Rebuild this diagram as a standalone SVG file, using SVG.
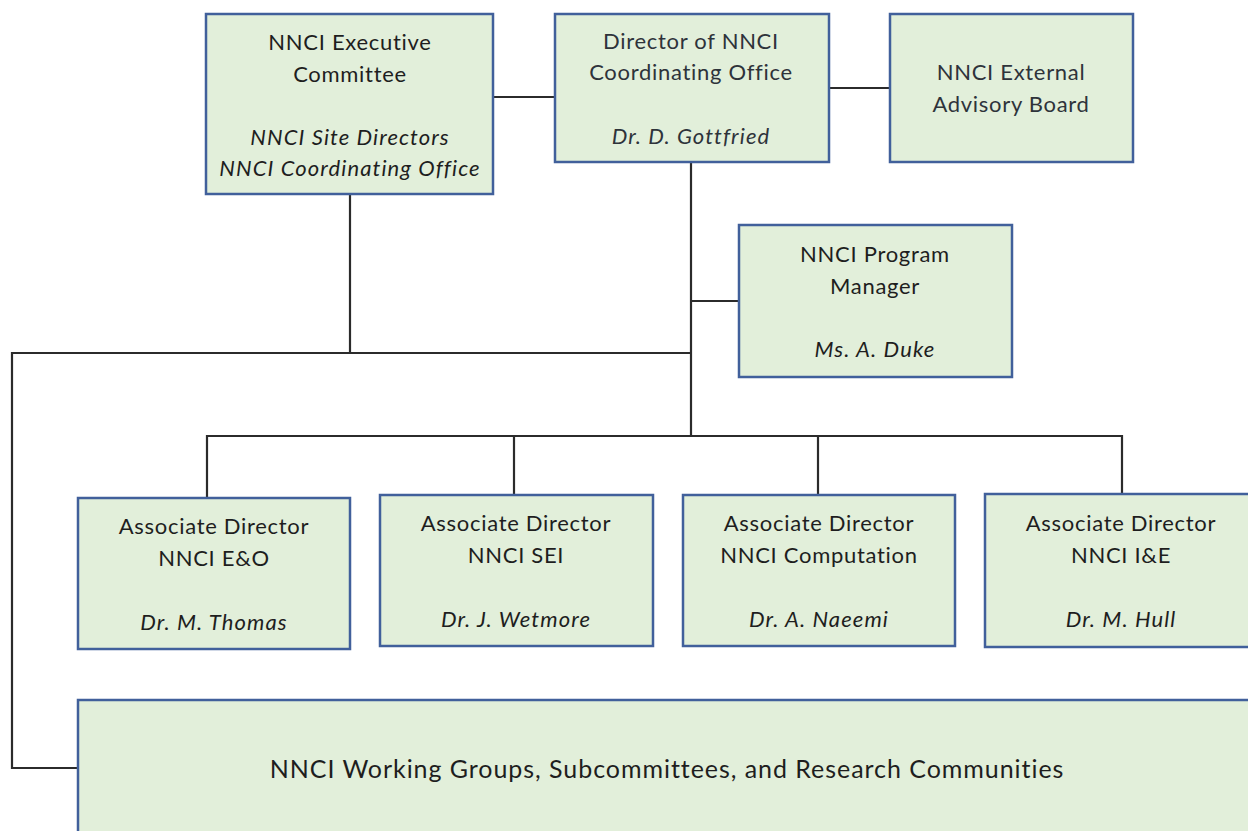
<svg xmlns="http://www.w3.org/2000/svg" width="1248" height="831" viewBox="0 0 1248 831">
  <style>
    .box { fill: #e2efda; stroke: #41609b; stroke-width: 2.5; }
    .wire { fill: none; stroke: #2b2b2b; stroke-width: 2.2; }
    text { font-family: Lato, "Open Sans", "Liberation Sans", sans-serif; font-size: 22px; fill: #1e1e1e; text-anchor: middle; letter-spacing: 0.7px; }
    .soft { fill: #2e333a; }
    .it { font-style: italic; letter-spacing: 1.1px; }
    .big { font-size: 25px; letter-spacing: 0.95px; }
  </style>
  <rect width="1248" height="831" fill="#ffffff"/>

  <g id="connectors">
    <path class="wire" d="M493 97 H555"/>
    <path class="wire" d="M829 88 H890"/>
    <path class="wire" d="M691 162 V436"/>
    <path class="wire" d="M691 301 H739"/>
    <path class="wire" d="M350 194 V353"/>
    <path class="wire" d="M691 353 H12 V768 H78"/>
    <path class="wire" d="M207 498 V436 H1122 V494"/>
    <path class="wire" d="M514 436 V495"/>
    <path class="wire" d="M818 436 V495"/>
  </g>

  <g id="executive-committee">
    <rect class="box" x="206" y="14" width="287" height="180"/>
    <text x="350" y="50">NNCI Executive</text>
    <text x="350" y="82">Committee</text>
    <text class="it" x="350" y="145">NNCI Site Directors</text>
    <text class="it" x="350" y="176">NNCI Coordinating Office</text>
  </g>

  <g id="director">
    <rect class="box" x="555" y="14" width="274" height="148"/>
    <text class="soft" x="691" y="49">Director of NNCI</text>
    <text class="soft" x="691" y="80">Coordinating Office</text>
    <text class="it soft" x="691" y="144">Dr. D. Gottfried</text>
  </g>

  <g id="advisory-board">
    <rect class="box" x="890" y="14" width="243" height="148"/>
    <text class="soft" x="1011" y="80">NNCI External</text>
    <text class="soft" x="1011" y="112">Advisory Board</text>
  </g>

  <g id="program-manager">
    <rect class="box" x="739" y="225" width="273" height="152"/>
    <text x="875" y="262">NNCI Program</text>
    <text x="875" y="294">Manager</text>
    <text class="it" x="875" y="357">Ms. A. Duke</text>
  </g>

  <g id="ad-eo">
    <rect class="box" x="78" y="498" width="272" height="151"/>
    <text x="214" y="534">Associate Director</text>
    <text x="214" y="566">NNCI E&amp;O</text>
    <text class="it" x="214" y="630">Dr. M. Thomas</text>
  </g>

  <g id="ad-sei">
    <rect class="box" x="380" y="495" width="273" height="151"/>
    <text x="516" y="531">Associate Director</text>
    <text x="516" y="563">NNCI SEI</text>
    <text class="it" x="516" y="627">Dr. J. Wetmore</text>
  </g>

  <g id="ad-computation">
    <rect class="box" x="683" y="495" width="272" height="151"/>
    <text x="819" y="531">Associate Director</text>
    <text x="819" y="563">NNCI Computation</text>
    <text class="it" x="819" y="627">Dr. A. Naeemi</text>
  </g>

  <g id="ad-ie">
    <rect class="box" x="985" y="494" width="275" height="153"/>
    <text x="1121" y="531">Associate Director</text>
    <text x="1121" y="563">NNCI I&amp;E</text>
    <text class="it" x="1121" y="627">Dr. M. Hull</text>
  </g>

  <g id="working-groups">
    <rect class="box" x="78" y="700" width="1190" height="150"/>
    <text class="big" x="667" y="778">NNCI Working Groups, Subcommittees, and Research Communities</text>
  </g>
</svg>
